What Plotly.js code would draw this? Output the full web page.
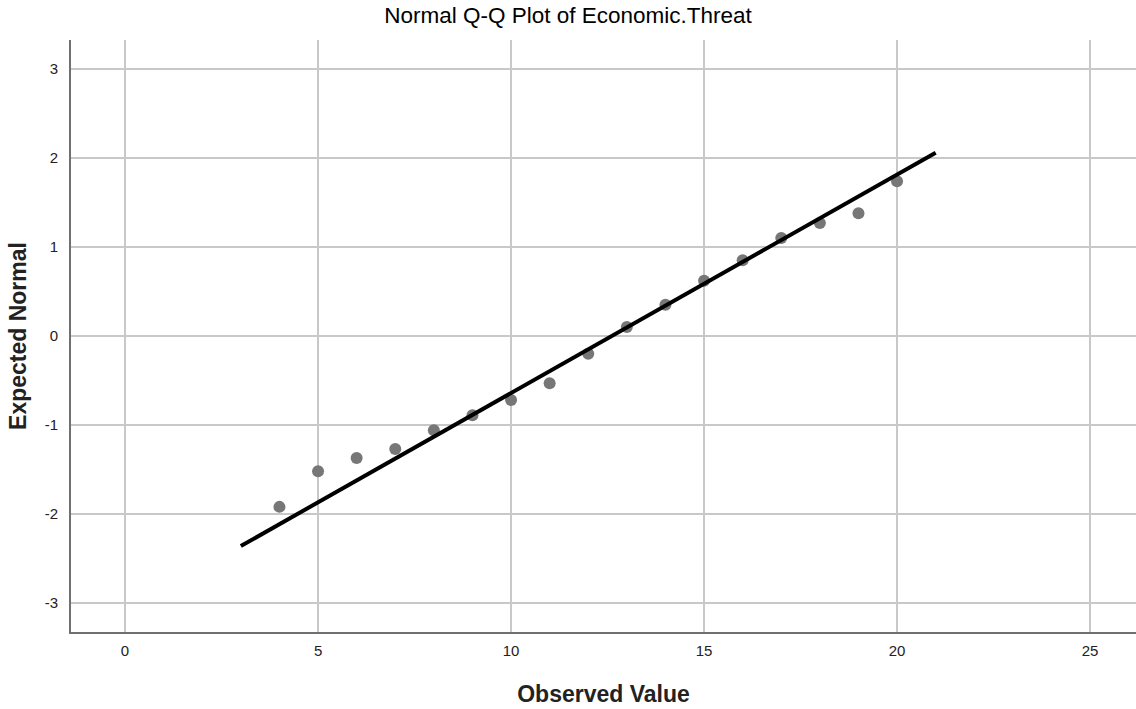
<!DOCTYPE html>
<html>
<head>
<meta charset="utf-8">
<script src="https://cdn.plot.ly/plotly-3.0.1.min.js"></script>
<style>html,body{margin:0;padding:0;background:#fff;}#chart{width:1136px;height:709px;}</style>
</head>
<body>
<div id="chart"></div>
<script>
const observed = [4, 5, 6, 7, 8, 9, 10, 11, 12, 13, 14, 15, 16, 17, 18, 19, 20];
const expected = [-1.92, -1.52, -1.37, -1.27, -1.06, -0.89, -0.72, -0.53, -0.20, 0.10, 0.35, 0.62, 0.85, 1.10, 1.27, 1.38, 1.74];
const lineX = [3, 21];
const lineY = [-2.36, 2.06];
const xTicks = [0, 5, 10, 15, 20, 25];
const yTicks = [-3, -2, -1, 0, 1, 2, 3];

const traces = [
  {x: observed, y: expected, type: 'scatter', mode: 'markers',
   marker: {color: '#777777', size: 12}, hoverinfo: 'x+y'},
  {x: lineX, y: lineY, type: 'scatter', mode: 'lines',
   line: {color: '#000000', width: 4}, hoverinfo: 'none'}
];
const font = {family: 'Liberation Sans, Arial, sans-serif', color: '#000'};
const layout = {
  width: 1136, height: 709,
  margin: {l: 71, r: 0, t: 40, b: 77},
  paper_bgcolor: '#fff', plot_bgcolor: '#fff',
  showlegend: false,
  font: font,
  title: {text: 'Normal Q-Q Plot of Economic.Threat', x: 0.5, xanchor: 'center', y: 0.99, yanchor: 'top',
          font: {family: font.family, size: 22.5, color: '#000'}},
  xaxis: {range: [-1.4, 26.19], tickvals: xTicks, ticktext: xTicks.map(String),
          showgrid: true, gridcolor: '#c8c8c8', gridwidth: 1.5, zeroline: false,
          showline: true, linecolor: '#707070', linewidth: 2, ticks: '', ticklen: 0,
          tickfont: {size: 15, color: '#222'}, ticklabelstandoff: 4,
          title: {text: '<b>Observed Value</b>', font: {size: 23, color: '#222'}, standoff: 28}},
  yaxis: {range: [-3.326, 3.326], tickvals: yTicks, ticktext: yTicks.map(String),
          showgrid: true, gridcolor: '#c8c8c8', gridwidth: 1.5, zeroline: false,
          showline: true, linecolor: '#707070', linewidth: 2, ticks: '', ticklen: 0,
          tickfont: {size: 15, color: '#222'}, ticklabelstandoff: 8,
          title: {text: '<b>Expected Normal</b>', font: {size: 23, color: '#222'}, standoff: 12}}
};
Plotly.newPlot('chart', traces, layout, {displayModeBar: false, staticPlot: true});
</script>
</body>
</html>
